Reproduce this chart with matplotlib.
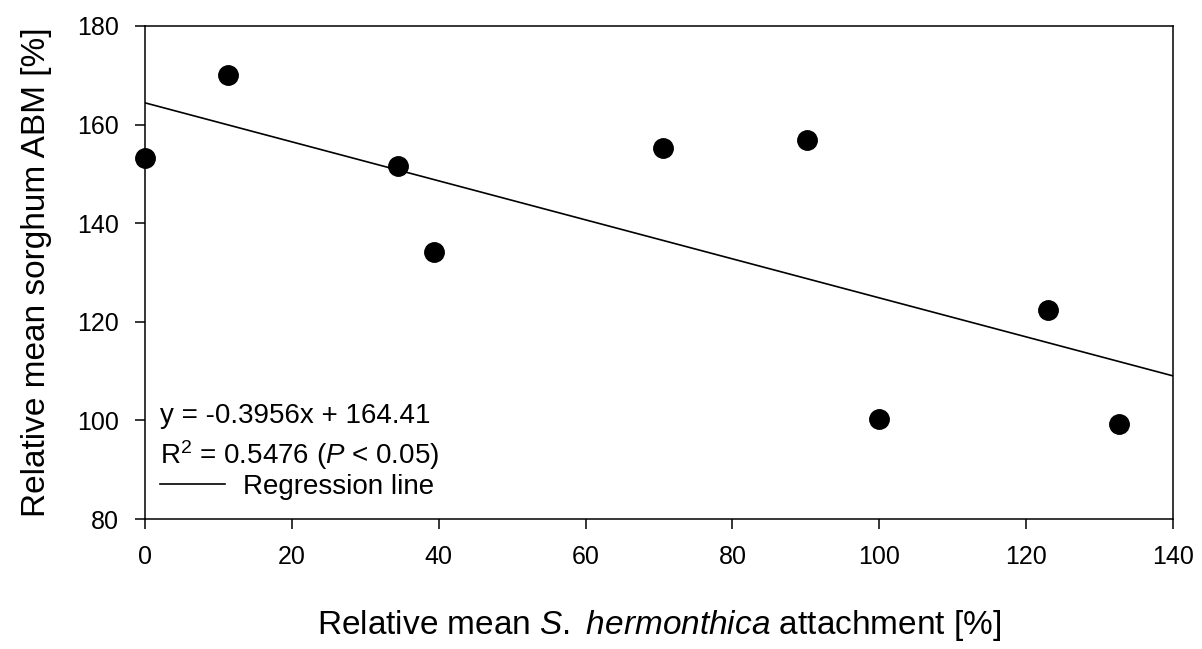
import matplotlib.pyplot as plt
import numpy as np

plt.rcParams['font.family'] = ['Liberation Sans', 'DejaVu Sans']
plt.rcParams['mathtext.fontset'] = 'custom'
plt.rcParams['mathtext.rm'] = 'Liberation Sans'
plt.rcParams['mathtext.it'] = 'Liberation Sans:italic'

# relative S. hermonthica attachment [%] vs relative sorghum ABM [%]
attachment = [0, 11.3, 34.5, 39.4, 70.5, 90.2, 100, 123, 132.6]
abm = [153.3, 170.1, 151.5, 134.1, 155.2, 156.8, 100.2, 122.4, 99.2]

slope = -0.3956
intercept = 164.41

xticks = [0, 20, 40, 60, 80, 100, 120, 140]
yticks = [80, 100, 120, 140, 160, 180]

fig = plt.figure(figsize=(12.02, 6.49), dpi=100)
ax = fig.add_axes([0.1206, 0.2003, 0.8553, 0.7597])

ax.scatter(attachment, abm, s=14**2, color='black', zorder=3, clip_on=False)

xl = np.array([0, 140])
ax.plot(xl, slope * xl + intercept, color='black', lw=1.2, label='Regression line')

ax.set_xlim(0, 140)
ax.set_ylim(80, 180)
ax.set_xticks(xticks)
ax.set_yticks(yticks)
ax.tick_params(direction='out', length=7, width=1.1, labelsize=18, pad=12)
ax.tick_params(axis='y', pad=12)
for s in ax.spines.values():
    s.set_linewidth(1.1)

ax.set_xlabel('Relative mean $\\it{S.}$ $\\it{hermonthica}$ attachment [%]', fontsize=24, labelpad=28)
ax.set_ylabel('Relative mean sorghum ABM [%]', fontsize=24, labelpad=18)

ax.text(0.0146, 0.209, 'y = -0.3956x + 164.41', transform=ax.transAxes,
        fontsize=20, va='center', ha='left')
ax.text(0.0146, 0.130, 'R$^2$ = 0.5476 ($\\it{P}$ < 0.05)', transform=ax.transAxes,
        fontsize=20, va='center', ha='left')
ax.legend(loc='center left', bbox_to_anchor=(0.0146, 0.065), frameon=False, fontsize=20,
          handlelength=2.35, handletextpad=0.65, borderpad=0, borderaxespad=0)

fig.savefig('out.png', dpi=100)
